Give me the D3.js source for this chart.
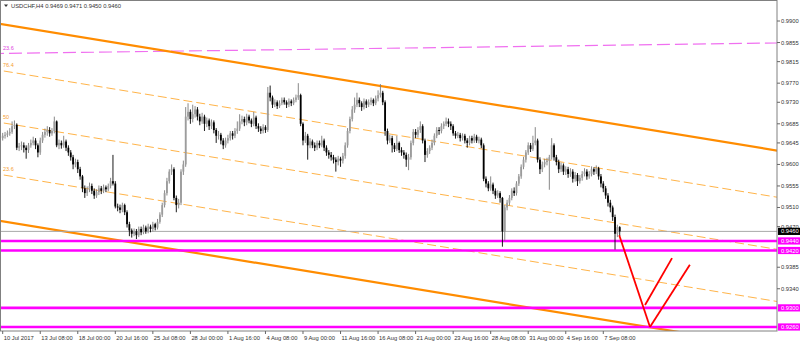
<!DOCTYPE html>
<html><head><meta charset="utf-8">
<script src="https://cdn.jsdelivr.net/npm/d3@7"></script>
<style>
html,body{margin:0;padding:0;background:#fff;overflow:hidden}
text{font-family:"Liberation Sans",Arial,sans-serif}
</style>
</head><body>
<svg id="chart" width="800" height="344"></svg>
<script>
// ---------------- data ----------------
const titleText = "USDCHF,H4  0.9469 0.9471 0.9450 0.9460";
const firstOpen = 0.9655;
const closes = [
0.9660,0.9662,0.9665,0.9668,0.9680,0.9683,0.9635,0.9638,0.9640,0.9635,
0.9630,0.9640,0.9645,0.9650,0.9640,0.9625,0.9650,0.9662,0.9668,0.9672,
0.9665,0.9670,0.9690,0.9640,0.9645,0.9640,0.9648,0.9635,0.9625,0.9615,
0.9600,0.9605,0.9590,0.9575,0.9550,0.9540,0.9548,0.9555,0.9545,0.9535,
0.9542,0.9550,0.9545,0.9552,0.9548,0.9555,0.9565,0.9560,0.9512,0.9510,
0.9505,0.9515,0.9500,0.9475,0.9462,0.9455,0.9460,0.9452,0.9465,0.9458,
0.9468,0.9460,0.9470,0.9465,0.9475,0.9468,0.9480,0.9495,0.9515,0.9540,
0.9565,0.9585,0.9590,0.9530,0.9515,0.9520,0.9585,0.9600,0.9700,0.9710,
0.9695,0.9705,0.9715,0.9700,0.9690,0.9700,0.9685,0.9692,0.9680,0.9688,
0.9672,0.9660,0.9662,0.9650,0.9640,0.9650,0.9655,0.9665,0.9660,0.9670,
0.9675,0.9690,0.9695,0.9688,0.9700,0.9692,0.9685,0.9698,0.9680,0.9675,
0.9670,0.9678,0.9672,0.9750,0.9740,0.9725,0.9730,0.9722,0.9728,0.9735,
0.9730,0.9725,0.9732,0.9728,0.9735,0.9740,0.9745,0.9685,0.9650,0.9660,
0.9640,0.9648,0.9640,0.9635,0.9645,0.9640,0.9650,0.9635,0.9625,0.9620,
0.9615,0.9610,0.9605,0.9612,0.9608,0.9618,0.9640,0.9670,0.9695,0.9715,
0.9725,0.9735,0.9728,0.9720,0.9732,0.9725,0.9730,0.9735,0.9728,0.9738,
0.9745,0.9750,0.9730,0.9670,0.9650,0.9655,0.9640,0.9632,0.9645,0.9630,
0.9625,0.9620,0.9610,0.9615,0.9645,0.9668,0.9662,0.9672,0.9680,0.9650,
0.9620,0.9628,0.9635,0.9645,0.9660,0.9672,0.9670,0.9680,0.9685,0.9690,
0.9685,0.9680,0.9665,0.9660,0.9662,0.9655,0.9660,0.9650,0.9645,0.9655,
0.9650,0.9658,0.9650,0.9652,0.9640,0.9570,0.9560,0.9550,0.9558,0.9545,
0.9535,0.9540,0.9530,0.9460,0.9510,0.9520,0.9530,0.9545,0.9540,0.9560,
0.9575,0.9595,0.9610,0.9625,0.9640,0.9632,0.9645,0.9650,0.9610,0.9590,
0.9600,0.9605,0.9608,0.9615,0.9640,0.9615,0.9605,0.9590,0.9598,0.9585,
0.9590,0.9580,0.9585,0.9570,0.9578,0.9565,0.9572,0.9580,0.9585,0.9575,
0.9580,0.9590,0.9585,0.9592,0.9575,0.9560,0.9550,0.9535,0.9520,0.9510,
0.9490,0.9455,0.9469,0.9460];
const highs = [
0.9666,0.9668,0.9671,0.9676,0.9690,0.9692,0.9686,0.9645,0.9648,0.9646,
0.9640,0.9645,0.9652,0.9658,0.9655,0.9644,0.9656,0.9668,0.9675,0.9680,
0.9678,0.9676,0.9700,0.9692,0.9652,0.9650,0.9660,0.9652,0.9640,0.9630,
0.9620,0.9612,0.9610,0.9595,0.9578,0.9556,0.9554,0.9562,0.9560,0.9550,
0.9548,0.9556,0.9555,0.9558,0.9556,0.9560,0.9572,0.9620,0.9565,0.9518,
0.9516,0.9520,0.9518,0.9504,0.9480,0.9466,0.9466,0.9465,0.9470,0.9470,
0.9474,0.9472,0.9476,0.9474,0.9480,0.9478,0.9486,0.9500,0.9520,0.9546,
0.9572,0.9590,0.9600,0.9594,0.9535,0.9528,0.9590,0.9608,0.9720,0.9728,
0.9715,0.9725,0.9722,0.9720,0.9706,0.9708,0.9704,0.9698,0.9696,0.9694,
0.9692,0.9676,0.9670,0.9666,0.9655,0.9656,0.9662,0.9670,0.9670,0.9676,
0.9690,0.9705,0.9702,0.9700,0.9706,0.9704,0.9696,0.9710,0.9702,0.9686,
0.9680,0.9684,0.9682,0.9762,0.9765,0.9744,0.9736,0.9734,0.9734,0.9740,
0.9740,0.9734,0.9738,0.9736,0.9740,0.9746,0.9770,0.9748,0.9688,0.9668,
0.9664,0.9655,0.9652,0.9646,0.9650,0.9650,0.9660,0.9654,0.9640,0.9630,
0.9626,0.9620,0.9615,0.9618,0.9616,0.9624,0.9646,0.9676,0.9700,0.9722,
0.9740,0.9750,0.9740,0.9732,0.9738,0.9736,0.9736,0.9740,0.9738,0.9744,
0.9755,0.9768,0.9754,0.9734,0.9675,0.9662,0.9660,0.9645,0.9660,0.9648,
0.9636,0.9630,0.9625,0.9622,0.9650,0.9674,0.9674,0.9678,0.9690,0.9684,
0.9654,0.9634,0.9640,0.9652,0.9665,0.9678,0.9678,0.9686,0.9690,0.9698,
0.9696,0.9690,0.9684,0.9670,0.9668,0.9666,0.9665,0.9664,0.9655,0.9660,
0.9660,0.9664,0.9662,0.9658,0.9656,0.9644,0.9575,0.9565,0.9575,0.9562,
0.9550,0.9546,0.9544,0.9532,0.9515,0.9526,0.9536,0.9550,0.9552,0.9565,
0.9580,0.9600,0.9616,0.9630,0.9646,0.9645,0.9660,0.9678,0.9654,0.9615,
0.9606,0.9612,0.9614,0.9620,0.9655,0.9644,0.9620,0.9610,0.9604,0.9602,
0.9596,0.9595,0.9592,0.9590,0.9584,0.9582,0.9578,0.9586,0.9592,0.9590,
0.9586,0.9596,0.9594,0.9598,0.9595,0.9580,0.9565,0.9555,0.9540,0.9526,
0.9514,0.9495,0.9474,0.9471];
const lows = [
0.9650,0.9654,0.9657,0.9660,0.9664,0.9674,0.9630,0.9628,0.9630,0.9625,
0.9612,0.9624,0.9635,0.9640,0.9632,0.9615,0.9620,0.9645,0.9656,0.9660,
0.9658,0.9660,0.9665,0.9636,0.9632,0.9633,0.9635,0.9628,0.9618,0.9608,
0.9590,0.9594,0.9582,0.9568,0.9542,0.9530,0.9534,0.9542,0.9538,0.9528,
0.9530,0.9536,0.9538,0.9540,0.9542,0.9544,0.9550,0.9556,0.9508,0.9502,
0.9498,0.9500,0.9494,0.9468,0.9450,0.9447,0.9450,0.9444,0.9448,0.9452,
0.9454,0.9455,0.9456,0.9458,0.9460,0.9462,0.9464,0.9476,0.9490,0.9510,
0.9535,0.9560,0.9578,0.9525,0.9500,0.9508,0.9515,0.9578,0.9595,0.9692,
0.9685,0.9688,0.9698,0.9692,0.9682,0.9685,0.9670,0.9678,0.9672,0.9674,
0.9665,0.9645,0.9652,0.9642,0.9632,0.9635,0.9644,0.9650,0.9652,0.9655,
0.9664,0.9670,0.9684,0.9680,0.9682,0.9686,0.9678,0.9680,0.9674,0.9668,
0.9664,0.9665,0.9666,0.9668,0.9732,0.9718,0.9720,0.9716,0.9718,0.9724,
0.9725,0.9718,0.9720,0.9722,0.9724,0.9730,0.9735,0.9680,0.9640,0.9645,
0.9610,0.9634,0.9634,0.9628,0.9630,0.9634,0.9636,0.9628,0.9618,0.9612,
0.9608,0.9602,0.9585,0.9598,0.9595,0.9602,0.9612,0.9635,0.9665,0.9690,
0.9708,0.9720,0.9720,0.9712,0.9715,0.9718,0.9720,0.9724,0.9722,0.9724,
0.9732,0.9740,0.9724,0.9660,0.9642,0.9645,0.9625,0.9626,0.9628,0.9624,
0.9618,0.9612,0.9595,0.9588,0.9610,0.9640,0.9655,0.9656,0.9666,0.9644,
0.9605,0.9614,0.9622,0.9630,0.9640,0.9655,0.9662,0.9665,0.9674,0.9680,
0.9678,0.9672,0.9660,0.9654,0.9655,0.9648,0.9650,0.9644,0.9635,0.9640,
0.9644,0.9645,0.9645,0.9644,0.9634,0.9565,0.9552,0.9544,0.9545,0.9538,
0.9528,0.9530,0.9520,0.9428,0.9440,0.9504,0.9514,0.9525,0.9534,0.9535,
0.9555,0.9570,0.9590,0.9604,0.9620,0.9626,0.9628,0.9640,0.9604,0.9580,
0.9584,0.9594,0.9598,0.9547,0.9610,0.9608,0.9598,0.9582,0.9584,0.9578,
0.9578,0.9572,0.9574,0.9562,0.9564,0.9555,0.9560,0.9566,0.9575,0.9568,
0.9570,0.9575,0.9578,0.9580,0.9568,0.9552,0.9542,0.9528,0.9512,0.9500,
0.9482,0.9422,0.9448,0.9450];

const xTickBars = [0,16,32,48,64,80,96,112,128,144,160,176,192,208,224,240,256];
const xTickLabels = ["10 Jul 2017","13 Jul 08:00","18 Jul 00:00","20 Jul 16:00","25 Jul 08:00",
  "28 Jul 00:00","1 Aug 16:00","4 Aug 08:00","9 Aug 00:00","11 Aug 16:00","16 Aug 08:00",
  "21 Aug 00:00","23 Aug 16:00","28 Aug 08:00","31 Aug 00:00","4 Sep 16:00","7 Sep 08:00"];
const yTickValues = [0.9900,0.9855,0.9815,0.9770,0.9730,0.9685,0.9645,0.9600,0.9555,0.9510,0.9470,0.9385,0.9340];

const supportLevels = [0.9440,0.9420,0.9300,0.9260];
const bidPrice = 0.9460;

// equidistant channel: [bar index, price] anchors
const channelTop = [[0,0.9893],[330,0.9629]];
const channelBottom = [[0,0.9481],[330,0.9216]];
const channelLevels = [0.236,0.5,0.764];
const channelLevelLabels = ["23.6","50","76.4"];
const fiboLine = [[0,0.98321],[330,0.98540]];
const fiboLabel = "23.6";
const projection = [
  [[262.8,0.9452],[275.9,0.9260]],
  [[275.9,0.9260],[292.9,0.9390]],
  [[273.8,0.9306],[285.3,0.9404]]
];

// ---------------- drawing ----------------
const W = 800, H = 344, plotR = 777, plotB = 331;
const svg = d3.select("#chart");
const x = d3.scaleLinear().domain([0,330]).range([2.7,776.9]);
const y = d3.scaleLinear().domain([0.9260,0.9900]).range([327,21]);

svg.append("defs").append("clipPath").attr("id","plotclip")
  .append("rect").attr("x",0).attr("y",0).attr("width",plotR).attr("height",plotB);

const g = svg.append("g").attr("clip-path","url(#plotclip)");

function lineAt(anchors, idx){
  const [[i0,p0],[i1,p1]] = anchors;
  return p0 + (p1-p0)*(idx-i0)/(i1-i0);
}
const ext = [-5, 335];

// channel level dashed lines
channelLevels.forEach((f,k)=>{
  const pts = ext.map(i=>[i, lineAt(channelBottom,i) + f*(lineAt(channelTop,i)-lineAt(channelBottom,i))]);
  g.append("line")
    .attr("x1",x(pts[0][0])).attr("y1",y(pts[0][1]))
    .attr("x2",x(pts[1][0])).attr("y2",y(pts[1][1]))
    .attr("stroke","#ffb449").attr("stroke-width",1).attr("stroke-dasharray","9,4");
  const p0 = lineAt(channelBottom,-1.15) + f*(lineAt(channelTop,-1.15)-lineAt(channelBottom,-1.15));
  g.append("text").attr("x",3).attr("y",y(p0)-3.5)
    .attr("font-size",5.5).attr("fill","#f5a030").text(channelLevelLabels[k]);
});

// fibo magenta dashed line
g.append("line")
  .attr("x1",x(ext[0])).attr("y1",y(lineAt(fiboLine,ext[0])))
  .attr("x2",x(ext[1])).attr("y2",y(lineAt(fiboLine,ext[1])))
  .attr("stroke","#f070f0").attr("stroke-width",1.2).attr("stroke-dasharray","13,5");
g.append("text").attr("x",3).attr("y",y(lineAt(fiboLine,-1.15))-3.5)
  .attr("font-size",5.5).attr("fill","#e040e0").text(fiboLabel);

// channel solid lines
[channelTop, channelBottom].forEach(a=>{
  g.append("line")
    .attr("x1",x(ext[0])).attr("y1",y(lineAt(a,ext[0])))
    .attr("x2",x(ext[1])).attr("y2",y(lineAt(a,ext[1])))
    .attr("stroke","#ff8c00").attr("stroke-width",2.2);
});

// bid line
g.append("line").attr("x1",0).attr("x2",plotR).attr("y1",y(bidPrice)).attr("y2",y(bidPrice))
  .attr("stroke","#a8a8a8").attr("stroke-width",1);

// support lines
supportLevels.forEach(v=>{
  g.append("line").attr("x1",0).attr("x2",plotR).attr("y1",y(v)).attr("y2",y(v))
    .attr("stroke","#ff00ff").attr("stroke-width",2.6);
});

// candles
const bars = closes.map((c,i)=>({i, o: i===0 ? firstOpen : closes[i-1], h: highs[i], l: lows[i], c}));
const cg = g.append("g");
cg.selectAll("line.wick").data(bars).join("line").attr("class","wick")
  .attr("x1",d=>x(d.i)).attr("x2",d=>x(d.i))
  .attr("y1",d=>y(d.h)).attr("y2",d=>y(d.l))
  .attr("stroke",d=>d.c>=d.o?"#7a7a7a":"#000").attr("stroke-width",0.9);
cg.selectAll("rect.body").data(bars).join("rect").attr("class","body")
  .attr("x",d=>x(d.i)-0.9).attr("width",1.8)
  .attr("y",d=>y(Math.max(d.o,d.c)))
  .attr("height",d=>Math.max(1,Math.abs(y(d.o)-y(d.c))))
  .attr("fill",d=>d.c>=d.o?"#9c9c9c":"#000");

// projection (red)
projection.forEach(seg=>{
  g.append("line")
    .attr("x1",x(seg[0][0])).attr("y1",y(seg[0][1]))
    .attr("x2",x(seg[1][0])).attr("y2",y(seg[1][1]))
    .attr("stroke","#ff0000").attr("stroke-width",1.8);
});

// frame
svg.append("rect").attr("x",0.5).attr("y",0.5).attr("width",plotR-0.5).attr("height",plotB-0.5)
  .attr("fill","none").attr("stroke","#808080").attr("stroke-width",1);

// y axis
const ya = svg.append("g");
yTickValues.forEach(v=>{
  ya.append("line").attr("x1",plotR).attr("x2",plotR+3).attr("y1",y(v)).attr("y2",y(v)).attr("stroke","#666");
  ya.append("text").attr("x",plotR+4).attr("y",y(v)).attr("dy","0.35em")
    .attr("font-size",5.8).attr("fill","#333").text(d3.format(".4f")(v));
});
function priceTag(v, fill){
  ya.append("rect").attr("x",plotR+1).attr("y",y(v)-3.6).attr("width",22).attr("height",7.2).attr("fill",fill);
  ya.append("text").attr("x",plotR+4).attr("y",y(v)).attr("dy","0.35em")
    .attr("font-size",5.8).attr("fill","#fff").text(d3.format(".4f")(v));
}
priceTag(bidPrice,"#000");
supportLevels.forEach(v=>priceTag(v,"#ff00ff"));

// x axis
const xa = svg.append("g");
xTickBars.forEach((b,k)=>{
  xa.append("line").attr("x1",x(b)).attr("x2",x(b)).attr("y1",plotB).attr("y2",plotB+3).attr("stroke","#666");
  xa.append("text").attr("x",x(b)+1).attr("y",339.5)
    .attr("font-size",5.8).attr("fill","#333").text(xTickLabels[k]);
});

// title
svg.append("path").attr("d","M4,4.5 L8,4.5 L6,7 Z").attr("fill","#333");
svg.append("text").attr("x",11).attr("y",8).attr("font-size",5.8).attr("fill","#333").text(titleText);
</script>
</body></html>
